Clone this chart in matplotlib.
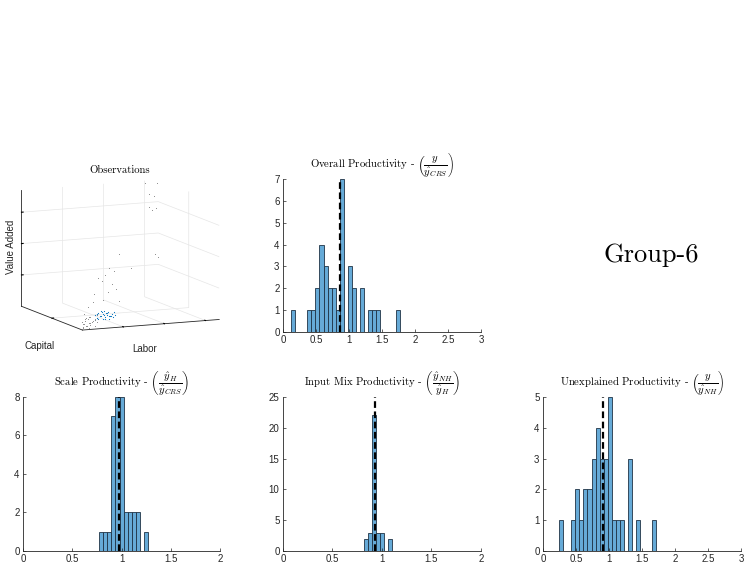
import numpy as np
import matplotlib
matplotlib.use("Agg")
import matplotlib.pyplot as plt
from matplotlib.ticker import FormatStrFormatter

plt.rcParams["font.family"] = ["Liberation Sans", "DejaVu Sans"]
plt.rcParams["mathtext.fontset"] = "cm"

# ---- histogram data (counts per bin, first bin edge, bin width, mean line) ----
overall_counts = [1, 0, 0, 0, 1, 1, 2, 4, 3, 2, 2, 1, 7, 0, 3, 2, 0, 2, 0, 1, 1, 1, 0, 0, 0, 0, 1]
overall_start, overall_width, overall_mean = 0.124, 0.0613, 0.868

scale_counts = [1, 1, 1, 7, 8, 8, 2, 2, 2, 2, 0, 1]
scale_start, scale_width, scale_mean = 0.775, 0.0409, 0.972

mix_counts = [2, 3, 22, 3, 3, 0, 2]
mix_start, mix_width, mix_mean = 0.822, 0.0405, 0.926

unexpl_counts = [1, 0, 0, 1, 2, 1, 2, 2, 3, 4, 3, 3, 5, 1, 1, 1, 0, 3, 0, 1, 0, 0, 0, 1]
unexpl_start, unexpl_width, unexpl_mean = 0.247, 0.061, 0.904

# ---- observations (labor, capital, value added), scaled units ----
other_labor = [0.88, 0.97, 0.90, 0.95, 0.92, 0.96, 0.94, 0.49, 0.89, 0.93, 0.33, 0.39, 0.28,
               0.20, 0.23, 0.35, 0.38, 0.30, 0.58, 0.12, 0.22, 0.14, 0.40, 0.06,
               0.02, 0.04, 0.05, 0.03, 0.07, 0.06, 0.08, 0.09, 0.04, 0.10, 0.05, 0.02,
               0.06, 0.11, 0.08, 0.03, 0.12, 0.07, 0.09, 0.13, 0.01, 0.05, 0.10, 0.04, 0.14]
other_capital = [0.95, 0.95, 0.92, 0.95, 0.97, 0.95, 0.97, 0.50, 0.80, 0.85, 0.30, 0.35, 0.25,
                 0.20, 0.20, 0.30, 0.30, 0.25, 0.50, 0.10, 0.15, 0.12, 0.30, 0.05,
                 0.03, 0.02, 0.05, 0.06, 0.04, 0.02, 0.05, 0.03, 0.04, 0.06, 0.08, 0.05,
                 0.07, 0.04, 0.08, 0.02, 0.07, 0.03, 0.09, 0.05, 0.02, 0.01, 0.02, 0.07, 0.08]
other_va = [0.99, 0.98, 0.90, 0.87, 0.78, 0.77, 0.75, 0.51, 0.41, 0.37, 0.44, 0.40, 0.40,
            0.39, 0.36, 0.30, 0.26, 0.25, 0.38, 0.21, 0.21, 0.27, 0.15, 0.18,
            0.02, 0.03, 0.02, 0.04, 0.03, 0.05, 0.04, 0.06, 0.07, 0.05, 0.03, 0.06,
            0.08, 0.08, 0.07, 0.09, 0.06, 0.10, 0.09, 0.11, 0.01, 0.01, 0.02, 0.12, 0.04]

group_labor = [0.13, 0.15, 0.18, 0.21, 0.17, 0.20, 0.24, 0.26, 0.12, 0.14, 0.19, 0.22, 0.16, 0.11, 0.23,
               0.25, 0.18, 0.20, 0.14, 0.16, 0.22, 0.27, 0.10, 0.19, 0.17, 0.21, 0.15, 0.24, 0.13, 0.20]
group_capital = [0.05, 0.04, 0.06, 0.05, 0.08, 0.07, 0.06, 0.08, 0.03, 0.06, 0.04, 0.09, 0.05, 0.04, 0.04,
                 0.05, 0.03, 0.09, 0.07, 0.02, 0.06, 0.07, 0.02, 0.08, 0.06, 0.03, 0.08, 0.09, 0.05, 0.05]
group_va = [0.12, 0.10, 0.11, 0.13, 0.09, 0.08, 0.10, 0.07, 0.09, 0.07, 0.12, 0.11, 0.14, 0.11, 0.09,
            0.12, 0.07, 0.13, 0.10, 0.08, 0.06, 0.09, 0.07, 0.10, 0.13, 0.10, 0.12, 0.08, 0.08, 0.10]

BAR_FACE = "#66aad7"
BAR_EDGE = "#1f3346"
AX_COLOR = "#262626"
MATLAB_BLUE = "#0072bd"
TITLE_FONT = "cmr10"


def hist_panel(ax, counts, start, width, mean, xlim, ylim, xticks, yticks, title):
    lefts = start + width * np.arange(len(counts))
    ax.bar(lefts, counts, width=width, align="edge", color=BAR_FACE,
           edgecolor=BAR_EDGE, linewidth=0.6)
    ax.plot([mean, mean], ylim, color="black", linestyle=(0, (3, 1.6)), linewidth=1.6)
    ax.set_xlim(*xlim)
    ax.set_ylim(*ylim)
    ax.set_xticks(xticks)
    ax.set_yticks(yticks)
    ax.xaxis.set_major_formatter(FormatStrFormatter("%g"))
    ax.yaxis.set_major_formatter(FormatStrFormatter("%g"))
    for side in ("top", "right"):
        ax.spines[side].set_visible(False)
    for side in ("left", "bottom"):
        ax.spines[side].set_color(AX_COLOR)
        ax.spines[side].set_linewidth(0.6)
    ax.tick_params(direction="in", length=2, width=0.5, color=AX_COLOR,
                   labelsize=7, labelcolor=AX_COLOR, pad=2.5)
    ax.set_title(title, fontfamily=TITLE_FONT, fontsize=7.7, pad=1.5)


fig = plt.figure(figsize=(7.5, 5.73), dpi=100)

# ---- 3D observations panel ----
ax3 = fig.add_axes([-0.031, 0.3465, 0.3745, 0.4066], projection="3d")
ax3.set_proj_type("ortho")
ax3.view_init(elev=10, azim=-114)
ax3.set_box_aspect((4, 4, 3.15), zoom=1.01)
ax3.scatter(other_labor, other_capital, other_va, s=0.5, c="#8c8c8c", depthshade=False, linewidths=0)
ax3.scatter(group_labor, group_capital, group_va, s=0.7, c=MATLAB_BLUE, depthshade=False, linewidths=0)
ax3.set_xlim(0, 1)
ax3.set_ylim(0, 1)
ax3.set_zlim(0, 1)
ax3.set_xticks([0.3, 0.6, 0.9])
ax3.set_yticks([0.5])
ax3.set_zticks([0.27, 0.54, 0.81])
ax3.set_xticklabels([])
ax3.set_yticklabels([])
ax3.set_zticklabels([])
for axis in (ax3.xaxis, ax3.yaxis, ax3.zaxis):
    axis.set_pane_color((1, 1, 1, 0))
    axis.pane.set_edgecolor("#e6e6e6")
    axis.line.set_color(AX_COLOR)
    axis.line.set_linewidth(0.6)
    axis._axinfo["grid"]["color"] = "#e6e6e6"
    axis._axinfo["grid"]["linewidth"] = 0.5
    axis._axinfo["tick"]["inward_factor"] = 0.0
    axis._axinfo["tick"]["outward_factor"] = 0.15

fig.text(120 / 750, 1 - 170 / 573, "Observations", fontfamily=TITLE_FONT, fontsize=7.7,
         ha="center", va="center")
fig.text(40 / 750, 1 - 346 / 573, "Capital", fontsize=7, color=AX_COLOR, ha="center", va="center")
fig.text(145 / 750, 1 - 349 / 573, "Labor", fontsize=7, color=AX_COLOR, ha="center", va="center")
fig.text(11 / 750, 1 - 247 / 573, "Value Added", fontsize=7, color=AX_COLOR, rotation=90,
         ha="center", va="center")

# ---- histograms ----
ax_overall = fig.add_axes([0.3773, 0.4206, 0.264, 0.267])
hist_panel(ax_overall, overall_counts, overall_start, overall_width, overall_mean,
           (0, 3), (0, 7), [0, 0.5, 1, 1.5, 2, 2.5, 3], range(0, 8),
           r"Overall Productivity - $\left(\dfrac{y}{\hat{y}_{CRS}}\right)$")

ax_scale = fig.add_axes([0.0307, 0.0384, 0.2627, 0.2688])
hist_panel(ax_scale, scale_counts, scale_start, scale_width, scale_mean,
           (0, 2), (0, 8), [0, 0.5, 1, 1.5, 2], [0, 2, 4, 6, 8],
           r"Scale Productivity - $\left(\dfrac{\hat{y}_H}{\hat{y}_{CRS}}\right)$")

ax_mix = fig.add_axes([0.3773, 0.0384, 0.264, 0.2688])
hist_panel(ax_mix, mix_counts, mix_start, mix_width, mix_mean,
           (0, 2), (0, 25), [0, 0.5, 1, 1.5, 2], [0, 5, 10, 15, 20, 25],
           r"Input Mix Productivity - $\left(\dfrac{\hat{y}_{NH}}{\hat{y}_H}\right)$")

ax_unexpl = fig.add_axes([0.724, 0.0384, 0.264, 0.2688])
hist_panel(ax_unexpl, unexpl_counts, unexpl_start, unexpl_width, unexpl_mean,
           (0, 3), (0, 5), [0, 0.5, 1, 1.5, 2, 2.5, 3], range(0, 6),
           r"Unexplained Productivity - $\left(\dfrac{y}{\hat{y}_{NH}}\right)$")

fig.text(0.868, 0.543, "Group-6", fontfamily=TITLE_FONT, fontsize=19,
         ha="center", va="baseline")

fig.savefig("out.png", dpi=100)
